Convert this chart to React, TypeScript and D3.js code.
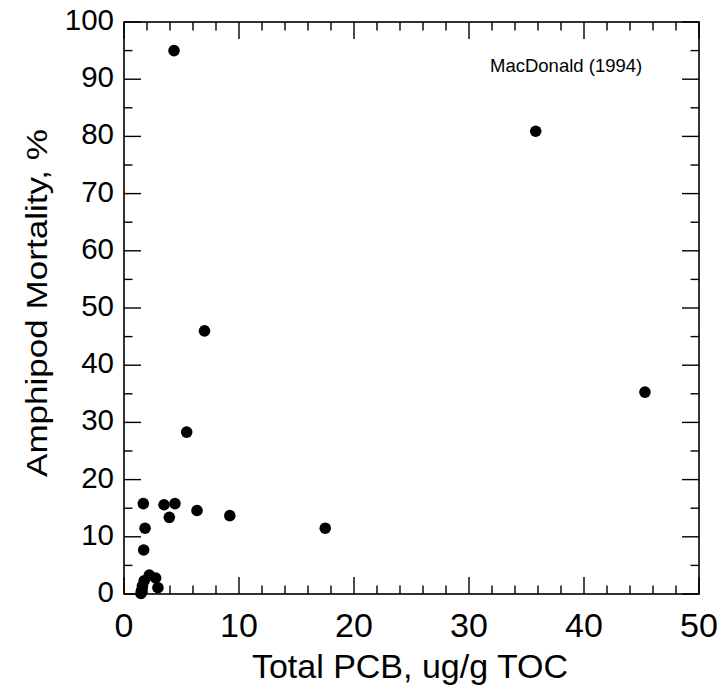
import React from "react";
import * as d3 from "d3";

const pcbValues: number[] = [4.35, 35.8, 45.3, 7.0, 5.45, 3.48, 4.43, 3.94, 6.35, 9.2, 17.5, 1.68, 1.83, 1.71, 2.2, 2.75, 2.95, 1.75, 1.6, 1.52, 1.48];
const mortalityValues: number[] = [95.0, 80.9, 35.3, 46.0, 28.3, 15.6, 15.8, 13.4, 14.6, 13.7, 11.5, 15.8, 11.5, 7.7, 3.3, 2.8, 1.1, 2.3, 1.4, 0.6, 0.1];
const xTicks: number[] = [0, 10, 20, 30, 40, 50];
const yTicks: number[] = [0, 10, 20, 30, 40, 50, 60, 70, 80, 90, 100];
const xMinorTicks: number[] = d3.range(0, 50.01, 2);
const yMinorTicks: number[] = d3.range(0, 100.01, 5);
const xTitle = "Total PCB, ug/g TOC";
const yTitle = "Amphipod Mortality, %";
const sourceLabel = "MacDonald (1994)";

export default function App() {
  const W = 724, H = 691;
  const left = 124, right = 699, top = 22, bottom = 594;
  const x = d3.scaleLinear().domain([0, 50]).range([left, right]);
  const y = d3.scaleLinear().domain([0, 100]).range([bottom, top]);
  const major = 17, minor = 8.5;
  const font = "Arial, 'Liberation Sans', Helvetica, sans-serif";
  const isMajorX = (v: number) => Math.abs(v % 10) < 1e-6;
  const isMajorY = (v: number) => Math.abs(v % 10) < 1e-6;

  return (
    <svg width={W} height={H} style={{ position: "absolute", left: 0, top: 0, background: "#fff" }} fontFamily={font}>
      <rect x={left} y={top} width={right - left} height={bottom - top} fill="none" stroke="#000" strokeWidth={1.6} />
      {xMinorTicks.map((v, i) => {
        const len = isMajorX(v) ? major : minor;
        return (
          <g key={"xt" + i}>
            <line x1={x(v)} x2={x(v)} y1={bottom} y2={bottom - len} stroke="#000" strokeWidth={1.4} />
            <line x1={x(v)} x2={x(v)} y1={top} y2={top + len} stroke="#000" strokeWidth={1.4} />
          </g>
        );
      })}
      {yMinorTicks.map((v, i) => {
        const len = isMajorY(v) ? major : minor;
        return (
          <g key={"yt" + i}>
            <line x1={left} x2={left + len} y1={y(v)} y2={y(v)} stroke="#000" strokeWidth={1.4} />
            <line x1={right} x2={right - len} y1={y(v)} y2={y(v)} stroke="#000" strokeWidth={1.4} />
          </g>
        );
      })}
      {xTicks.map((v) => (
        <text key={"xl" + v} x={x(v)} y={637} textAnchor="middle" fontSize={34} fill="#000">{v}</text>
      ))}
      {yTicks.map((v) => (
        <text key={"yl" + v} x={114} y={y(v) + 8} textAnchor="end" fontSize={29.5} fill="#000">{v}</text>
      ))}
      <text x={410} y={678} textAnchor="middle" fontSize={34} fill="#000">{xTitle}</text>
      <text transform={`translate(47,303) rotate(-90)`} textAnchor="middle" fontSize={30} fill="#000" textLength={348} lengthAdjust="spacingAndGlyphs">{yTitle}</text>
      <text x={490} y={72} fontSize={18.5} fill="#000">{sourceLabel}</text>
      {pcbValues.map((v, i) => (
        <circle key={"p" + i} cx={x(v)} cy={y(mortalityValues[i])} r={5.8} fill="#000" />
      ))}
    </svg>
  );
}
